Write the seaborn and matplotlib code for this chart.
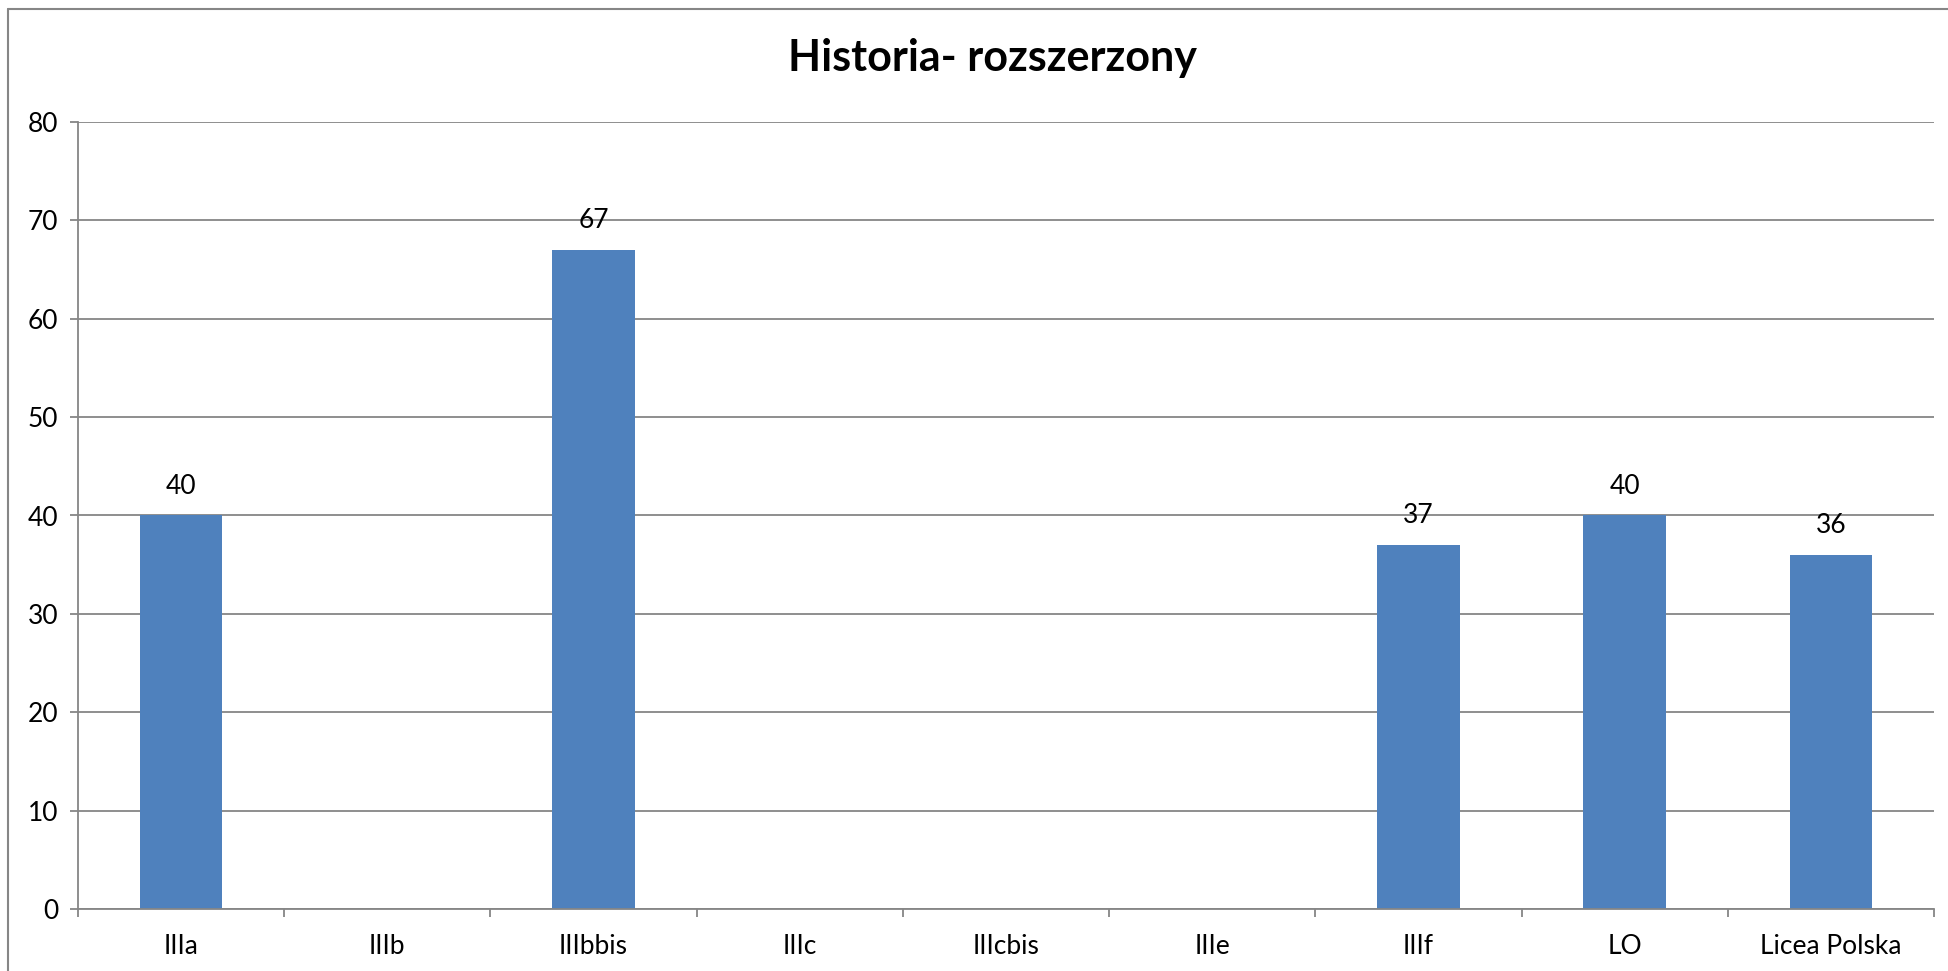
import numpy as np
import pandas as pd
import seaborn as sns
import matplotlib.pyplot as plt
from matplotlib.lines import Line2D

# data
classes = ['IIIa', 'IIIb', 'IIIbbis', 'IIIc', 'IIIcbis', 'IIIe', 'IIIf', 'LO', 'Licea Polska']
scores = [40, np.nan, 67, np.nan, np.nan, np.nan, 37, 40, 36]
y_ticks = [0, 10, 20, 30, 40, 50, 60, 70, 80]

df = pd.DataFrame({'Klasa': classes, 'Wynik': scores})

sns.set_style('white')
plt.rcParams['font.family'] = ['Lato', 'DejaVu Sans']

grey = '#868686'
fig = plt.figure(figsize=(19.48, 9.71), dpi=100)
ax = fig.add_axes([78 / 1948, 1 - 909 / 971, (1934 - 78) / 1948, (909 - 122) / 971])

sns.barplot(data=df, x='Klasa', y='Wynik', order=classes, color='#4F81BD',
            width=0.40, saturation=1, errorbar=None, linewidth=0, ax=ax)

for cont in ax.containers:
    labels = ['' if np.isnan(v) else f'{v:.0f}' for v in cont.datavalues]
    ax.bar_label(cont, labels=labels, padding=12, fontsize=19, color='black')

ax.set_ylim(0, 80)
ax.set_xlim(-0.5, len(classes) - 0.5)
ax.set_yticks(y_ticks)
ax.yaxis.grid(True, color=grey, linewidth=1.3)
ax.set_axisbelow(True)
ax.set_xlabel('')
ax.set_ylabel('')

# Excel-style category ticks between the groups
ax.set_xticks(np.arange(-0.5, len(classes)), minor=True)
ax.tick_params(axis='x', which='major', bottom=True, length=0, pad=18, labelsize=19, labelcolor='black')
ax.tick_params(axis='x', which='minor', bottom=True, direction='out', length=6, width=1.3, color=grey)
ax.tick_params(axis='y', left=True, direction='out', length=6, width=1.3, color=grey, pad=8,
               labelsize=19, labelcolor='black')

for side in ['top', 'right']:
    ax.spines[side].set_visible(False)
for side in ['left', 'bottom']:
    ax.spines[side].set_color(grey)
    ax.spines[side].set_linewidth(1.3)

fig.text(992 / 1948, 1 - 58 / 971, 'Historia- rozszerzony', ha='center', va='center',
         fontsize=31, fontweight='bold', color='black')

# outer chart border
fig.add_artist(Line2D([8 / 1948, 8 / 1948], [0, 1 - 9 / 971], color=grey, linewidth=1.5))
fig.add_artist(Line2D([8 / 1948, 1], [1 - 9 / 971, 1 - 9 / 971], color=grey, linewidth=1.5))

fig.savefig('out.png', dpi=100)
